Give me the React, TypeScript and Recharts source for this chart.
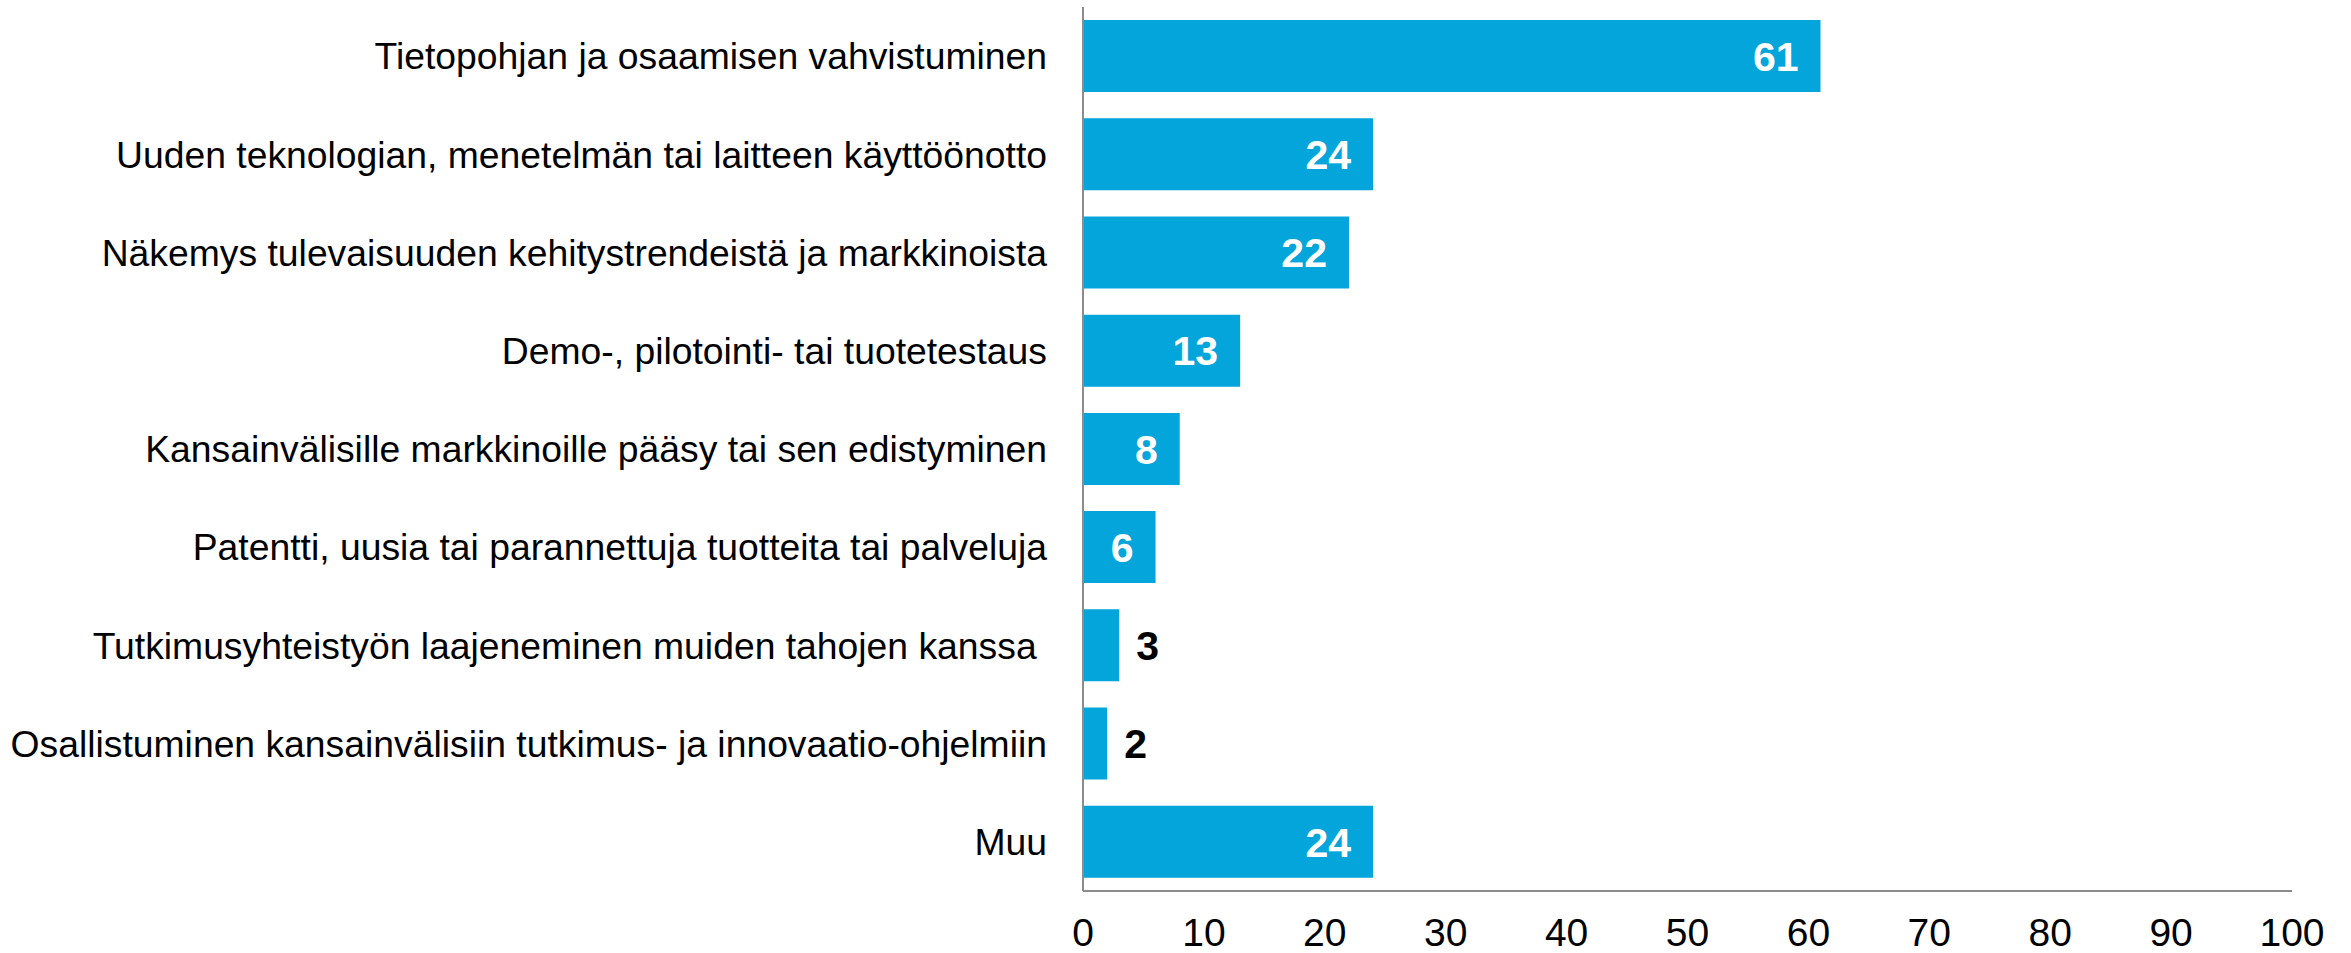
import React from 'react'
import { BarChart, Bar, XAxis, YAxis, LabelList } from 'recharts'

const categories = [
  'Tietopohjan ja osaamisen vahvistuminen',
  'Uuden teknologian, menetelmän tai laitteen käyttöönotto',
  'Näkemys tulevaisuuden kehitystrendeistä ja markkinoista',
  'Demo-, pilotointi- tai tuotetestaus',
  'Kansainvälisille markkinoille pääsy tai sen edistyminen',
  'Patentti, uusia tai parannettuja tuotteita tai palveluja',
  'Tutkimusyhteistyön laajeneminen muiden tahojen kanssa\u00a0',
  'Osallistuminen kansainvälisiin tutkimus- ja innovaatio-ohjelmiin',
  'Muu',
]
const values = [61, 24, 22, 13, 8, 6, 3, 2, 24]
const xTicks = [0, 10, 20, 30, 40, 50, 60, 70, 80, 90, 100]

const data = categories.map((name, i) => ({ name, value: values[i] }))

const FONT = '"Liberation Sans", Arial, sans-serif'
const BAR_COLOR = '#03a5db'
const AXIS_COLOR = '#8c8c8c'

// small values sit outside the bar in black, the rest inside in white
function ValueLabel(props: any) {
  const { x, y, width, height, value } = props
  const inside = value >= 5
  return (
    <text
      x={inside ? x + width - 22 : x + width + 17}
      y={y + height / 2}
      dy="0.36em"
      textAnchor={inside ? 'end' : 'start'}
      fill={inside ? '#ffffff' : '#000000'}
      fontFamily={FONT}
      fontWeight="bold"
      fontSize={41}
    >
      {value}
    </text>
  )
}

export default function App() {
  return (
    <div style={{ position: 'absolute', left: 0, top: 0, background: '#fff' }}>
      <BarChart
        width={2351}
        height={953}
        data={data}
        layout="vertical"
        margin={{ top: 7, right: 59, bottom: 0, left: 0 }}
        barSize={72}
      >
        <XAxis
          type="number"
          domain={[0, 100]}
          ticks={xTicks}
          interval={0}
          height={62}
          tickSize={0}
          tickMargin={27}
          axisLine={{ stroke: AXIS_COLOR, strokeWidth: 2 }}
          tick={{ fill: '#000', fontSize: 39, fontFamily: FONT }}
        />
        <YAxis
          type="category"
          dataKey="name"
          width={1083}
          interval={0}
          tickSize={0}
          tickMargin={36}
          axisLine={{ stroke: AXIS_COLOR, strokeWidth: 2 }}
          tick={{ fill: '#000', fontSize: 37.3, fontFamily: FONT }}
        />
        <Bar dataKey="value" fill={BAR_COLOR} isAnimationActive={false}>
          <LabelList dataKey="value" content={ValueLabel} />
        </Bar>
      </BarChart>
    </div>
  )
}
